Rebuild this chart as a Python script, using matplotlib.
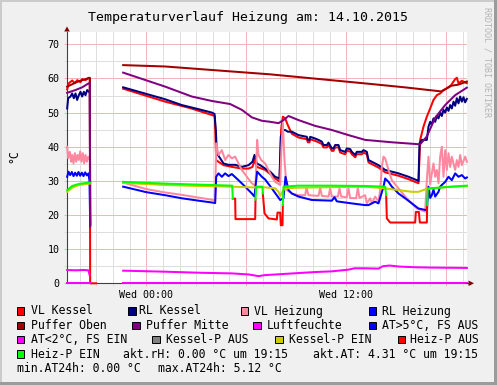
import numpy as np
import matplotlib
matplotlib.use('Agg')
import matplotlib.pyplot as plt
from matplotlib.patches import Rectangle, Polygon
from matplotlib.lines import Line2D

plt.rcParams['font.family'] = ['DejaVu Sans Mono', 'DejaVu Sans']

NAN = np.nan

# ---------------- data (hours relative to Wed 00:00, values in °C) ----------------
vlk_h = [-4.74, -4.64, -4.44, -4.28, -4.14, -3.94, -3.84, -3.64, -3.44, -3.38, -3.36, -3.0, -2.0,
         -1.38, 1.14, 2.64, 3.94, 4.12, 4.20, 4.34, 4.64, 5.14, 5.74, 6.14, 6.38, 6.50, 6.64,
         7.14, 7.44, 7.74, 8.00, 8.10, 8.20, 8.34, 8.50, 8.74,
         9.14, 9.54, 9.64, 9.70, 9.80, 9.84, 10.14, 10.34, 10.54, 10.64, 10.84, 10.94, 11.14,
         11.24, 11.34, 11.54, 11.64, 11.94, 12.04, 12.24, 12.34, 12.54, 12.64, 12.94, 13.04,
         13.24, 13.34, 13.54, 13.94, 14.34, 15.14, 15.74, 16.24, 16.34,
         16.44, 16.64, 16.84, 17.04, 17.24, 17.44, 17.64, 17.84, 18.04, 18.24, 18.44, 18.54,
         18.64, 18.74, 18.94, 19.24]
vlk_v = [56.8, 58.6, 59.4, 58.6, 59.5, 58.9, 59.8, 59.5, 60.2, 60.0, 0.0, 0.0, NAN,
         57.0, 53.2, 51.3, 49.3, 49.0, 36.0, 35.6, 34.6, 34.1, 33.6, 33.6, 34.1, 36.1, 34.1,
         33.2, 32.0, 30.7, 29.8, 45.0, 48.8, 48.3, 46.3, 43.8,
         42.7, 42.3, 42.2, 41.3, 41.3, 42.2, 41.7, 41.3, 40.8, 39.8, 39.8, 40.5, 38.8,
         38.8, 39.8, 39.8, 38.3, 37.8, 38.8, 38.6, 37.8, 36.9, 37.8, 37.8, 38.3,
         37.8, 35.4, 34.9, 33.9, 32.5, 31.5, 30.5, 29.5, 29.3,
         42.0, 45.9, 48.8, 51.2, 53.7, 55.1, 55.6, 56.6, 57.1, 57.6, 59.1, 59.8,
         60.2, 58.6, 59.3, 58.6]

rlk_h = [-4.74, -4.68, -4.54, -4.44, -4.34, -4.24, -4.14, -4.04, -3.94, -3.84, -3.74, -3.64,
         -3.54, -3.44, -3.38, -3.36, -2.0,
         -1.38, 1.14, 2.14, 3.14, 3.94, 4.10, 4.18, 4.24, 4.44, 4.64, 4.94, 5.34, 5.74, 6.14,
         6.38, 6.50, 6.64, 6.84, 7.14, 7.44, 7.74, 8.00, 8.08, 8.24, 8.34, 8.50, 8.74,
         9.14, 9.54, 9.64, 9.70, 9.80, 9.84, 10.14, 10.34, 10.54, 10.64, 10.84, 10.94, 11.14,
         11.24, 11.34, 11.54, 11.64, 11.94, 12.04, 12.24, 12.34, 12.54, 12.64, 12.94, 13.04,
         13.24, 13.34, 13.54, 13.94, 14.34, 15.14, 15.74, 16.24, 16.34,
         16.40, 16.54, 16.84, 16.94, 17.04, 17.14, 17.24, 17.34, 17.44, 17.54, 17.64, 17.74,
         17.84, 17.94, 18.04, 18.14, 18.24, 18.34, 18.44, 18.54, 18.64, 18.74, 18.84, 18.94,
         19.04, 19.14, 19.24]
rlk_v = [51.2, 54.2, 54.7, 55.6, 54.2, 55.6, 53.7, 55.1, 56.1, 54.7, 56.1, 55.1,
         56.6, 56.1, 56.0, 17.0, NAN,
         57.4, 53.9, 52.2, 51.0, 50.0, 49.6, 44.9, 38.1, 36.6, 35.1, 34.7, 34.7, 34.1, 34.6,
         35.6, 37.6, 35.1, 34.6, 33.6, 32.7, 31.2, 30.7, 43.0, 44.9, 44.9, 44.4, 44.4,
         43.4, 43.0, 42.9, 42.0, 42.0, 42.9, 42.4, 42.0, 41.5, 40.5, 40.5, 41.2, 39.5,
         39.5, 40.5, 40.5, 39.0, 38.5, 39.5, 39.3, 38.5, 37.6, 38.5, 38.5, 39.0,
         38.5, 36.1, 35.6, 34.6, 33.2, 32.2, 31.2, 30.2, 30.0,
         41.0, 42.0, 42.0, 45.9, 47.3, 46.5, 48.3, 47.3, 49.0, 48.3, 50.0, 49.0,
         50.8, 50.0, 51.5, 50.5, 52.2, 51.2, 53.2, 52.0, 54.2, 52.7, 54.7, 53.2,
         54.5, 53.0, 54.0]

vlh_h = [-4.74, -4.68, -4.58, -4.50, -4.44, -4.36, -4.28, -4.20, -4.12, -4.04, -3.96, -3.88,
         -3.80, -3.72, -3.64, -3.56, -3.48, -3.38, -3.36, -2.0,
         -1.38, 0.0, 1.14, 2.14, 3.14, 4.04, 4.14, 4.20, 4.34, 4.54, 4.74, 4.94, 5.14, 5.34,
         5.54, 5.74, 6.04, 6.34, 6.56, 6.66, 6.74, 6.90, 7.14, 7.54, 7.74, 8.04, 8.12, 8.20,
         8.30, 8.44, 8.74, 9.14, 9.54, 9.62, 9.74, 10.34, 10.44, 10.54, 10.94, 11.04, 11.14,
         11.50, 11.60, 11.70, 12.04, 12.14, 12.24, 12.60, 12.70, 12.80, 13.14, 13.24, 13.44,
         13.54, 13.74, 13.94, 14.04, 14.14, 14.24, 14.34, 14.54, 14.74, 15.14, 15.54, 15.94,
         16.24, 16.74, 16.84, 16.94, 17.04, 17.14, 17.24, 17.34, 17.44, 17.54, 17.64, 17.74,
         17.84, 17.94, 18.04, 18.14, 18.24, 18.34, 18.44, 18.54, 18.64, 18.74, 18.84, 18.94,
         19.14, 19.24]
vlh_v = [40.0, 36.6, 38.5, 35.6, 37.6, 35.1, 38.1, 35.6, 37.6, 36.1, 38.6, 35.6,
         38.1, 35.1, 37.6, 35.6, 37.1, 36.0, 17.0, NAN,
         29.5, 27.6, 26.6, 25.9, 25.1, 24.4, 24.4, 41.0, 37.6, 39.0, 36.1, 37.6, 36.6, 37.1,
         35.1, 33.2, 31.2, 29.3, 28.5, 42.0, 37.6, 36.1, 35.1, 31.2, 29.7, 28.8, 40.0, 47.0,
         36.0, 27.3, 26.3, 25.8, 25.8, 28.0, 25.8, 25.6, 28.0, 25.6, 25.4, 27.8, 25.4,
         25.4, 27.8, 25.4, 25.2, 27.8, 25.0, 24.9, 28.0, 25.0, 25.8, 23.4, 24.9,
         23.4, 25.4, 23.9, 27.3, 34.1, 37.1, 36.6, 33.2, 30.2, 27.8, 25.4, 23.4,
         21.9, 21.0, 30.2, 37.1, 29.0, 32.2, 35.1, 31.2, 33.2, 29.3, 37.1, 40.0,
         31.2, 39.0, 33.2, 38.1, 34.1, 37.1, 35.1, 33.2, 36.1, 34.1, 37.6, 34.6,
         37.1, 35.6]

rlh_h = [-4.74, -4.66, -4.56, -4.46, -4.36, -4.26, -4.16, -4.06, -3.96, -3.86, -3.76, -3.66,
         -3.56, -3.46, -3.40, -3.36, -2.0,
         -1.38, 0.0, 1.14, 2.14, 3.14, 4.04, 4.14, 4.20, 4.34, 4.54, 4.74, 4.94, 5.14, 5.54,
         5.94, 6.34, 6.50, 6.58, 6.66, 6.94, 7.14, 7.54, 8.04, 8.24, 8.36, 8.54, 8.74, 9.14,
         9.94, 11.14, 11.30, 11.44, 12.34, 13.14, 13.34, 13.74, 13.94, 14.24, 14.34, 14.54,
         14.74, 15.14, 15.54, 15.94, 16.34, 16.84, 16.94, 17.04, 17.14, 17.24, 17.34, 17.54,
         17.64, 17.74, 17.94, 18.14, 18.34, 18.54, 18.74, 18.94, 19.14, 19.24]
rlh_v = [31.2, 32.7, 31.7, 32.6, 31.4, 32.4, 31.5, 32.6, 31.5, 32.4, 31.4, 32.5,
         31.6, 32.2, 30.0, 17.5, NAN,
         28.3, 26.7, 25.8, 24.9, 24.2, 23.6, 23.5, 31.2, 32.2, 31.2, 32.2, 31.4, 32.0, 30.2,
         28.3, 26.3, 25.4, 29.3, 32.7, 31.2, 30.4, 27.8, 24.4, 24.9, 31.2, 27.3, 26.3, 25.4,
         24.4, 24.2, 25.2, 24.0, 23.4, 22.9, 22.9, 23.9, 23.4, 28.3, 30.7, 29.7,
         28.3, 26.3, 24.9, 23.4, 21.9, 21.4, 28.3, 25.0, 25.8, 27.5, 25.4, 26.8,
         28.3, 28.8, 29.7, 31.2, 30.2, 32.2, 31.2, 31.7, 30.7, 31.0]

po_h = [-4.74, -4.44, -4.14, -3.84, -3.44, -3.38, -3.36, -2.0,
        -1.38, 1.14, 4.14, 7.44, 10.44, 13.44, 15.50, 17.52, 17.70, 17.94, 18.24, 18.74, 19.24]
po_v = [57.6, 58.3, 59.0, 59.5, 60.1, 60.2, 17.0, NAN,
        63.9, 63.5, 62.4, 61.2, 59.8, 58.4, 57.4, 56.3, 56.2, 56.8, 57.8, 58.2, 59.1]

pm_h = [-4.74, -4.24, -3.84, -3.44, -3.38, -3.36, -2.0,
        -1.38, 1.14, 2.74, 3.94, 5.04, 5.74, 6.34, 6.94, 7.44, 7.94, 8.24, 8.54, 8.74, 9.14,
        10.14, 11.14, 12.14, 13.14, 14.74, 16.44, 16.84, 17.34, 17.94, 18.54, 19.24]
pm_v = [55.8, 56.6, 57.4, 58.6, 58.6, 16.6, NAN,
        61.7, 57.6, 54.7, 53.4, 52.5, 50.8, 48.6, 47.6, 47.3, 46.9, 47.8, 49.0, 48.6, 47.8,
        46.1, 44.9, 43.4, 42.0, 41.3, 40.7, 43.0, 48.5, 52.2, 55.1, 57.3]

lf_h = [-4.74, -3.38, -2.0, -1.38, 19.24]
lf_v = [0.0, 0.0, NAN, 0.0, 0.0]

at_h = [-4.74, -4.24, -3.74, -3.46, -3.40, -2.0,
        -1.38, 1.14, 3.14, 5.14, 6.14, 6.74, 7.14, 8.14, 9.14, 10.14, 11.14, 12.14, 12.50,
        13.14, 13.94, 14.20, 14.60, 15.20, 16.14, 17.14, 19.24]
at_v = [3.9, 3.8, 3.9, 3.8, 2.5, NAN,
        3.7, 3.4, 3.1, 2.9, 2.6, 2.1, 2.4, 2.7, 3.0, 3.3, 3.5, 4.0, 4.4,
        4.4, 4.3, 5.0, 5.2, 4.9, 4.7, 4.6, 4.5]

kp_h = [-4.74, -4.44, -4.04, -3.44, -3.38, -2.0,
        -1.38, 1.14, 3.14, 5.14, 6.34, 7.14, 7.74, 7.94, 8.04, 8.14, 8.30, 9.14, 13.14,
        14.34, 15.14, 15.94, 16.34, 16.74, 17.54, 18.34, 19.24]
kp_v = [26.8, 28.0, 28.8, 29.2, 29.2, NAN,
        29.4, 28.8, 28.5, 28.3, 28.1, 28.1, 27.8, 26.8, 25.6, 26.5, 27.8, 28.0, 28.3,
        27.8, 27.3, 26.8, 26.8, 27.5, 28.0, 28.3, 28.5]

# Heiz-P line: state 1 = EIN, 0 = AUS, 2 = switching point (both)
hp_h = [-4.74, -4.44, -4.04, -3.44, -3.38, -2.0,
        -1.38, 1.14, 3.14, 5.16, 5.20, 5.34, 5.36, 6.54, 6.56, 6.60, 6.98, 7.00, 7.10, 7.34,
        7.84, 7.88, 8.04, 8.08, 8.18, 8.20, 8.24, 9.14, 11.14, 13.14, 14.34, 14.40, 14.44,
        14.64, 16.14, 16.18, 16.36, 16.42, 16.84, 16.86, 16.90, 17.54, 18.34, 19.24]
hp_v = [27.3, 28.5, 29.1, 29.5, 29.5, NAN,
        29.7, 29.2, 28.9, 28.6, 24.8, 24.8, 18.8, 18.8, 24.5, 28.3, 28.3, 26.3, 20.5, 19.0,
        18.7, 20.7, 20.7, 17.0, 17.0, 22.9, 28.3, 28.6, 28.6, 28.5, 28.3, 25.8, 19.0,
        17.8, 17.8, 20.9, 20.9, 17.8, 17.8, 22.9, 27.8, 28.0, 28.3, 28.6]
hp_s = [1, 1, 1, 1, 1, -1,
        1, 1, 1, 1, 2, 0, 0, 0, 2, 1, 1, 2, 0, 0,
        0, 0, 0, 0, 0, 2, 1, 1, 1, 1, 1, 2, 0,
        0, 0, 0, 0, 0, 0, 2, 1, 1, 1, 1]

x_major = [0, 6, 12, 18]
x_labels = ['Wed 00:00', '', 'Wed 12:00', '']
x_minor = [h for h in range(-4, 20)]
y_major = [0, 10, 20, 30, 40, 50, 60, 70]
y_minor = [5, 15, 25, 35, 45, 55, 65]

title = 'Temperaturverlauf Heizung am: 14.10.2015'
legend_labels = ['VL Kessel', 'RL Kessel', 'VL Heizung', 'RL Heizung',
                 'Puffer Oben', 'Puffer Mitte', 'Luftfeuchte', 'AT>5°C, FS AUS',
                 'AT<2°C, FS EIN', 'Kessel-P AUS', 'Kessel-P EIN', 'Heiz-P AUS',
                 'Heiz-P EIN']
legend_colors = ['#FF0000', '#000080', '#FF88A0', '#0000FF',
                 '#A00000', '#800080', '#FF00FF', '#0000FF',
                 '#FF00FF', '#808080', '#CCCC00', '#FF0000',
                 '#00FF00']
info_texts = ['akt.rH: 0.00 °C um 19:15', 'akt.AT: 4.31 °C um 19:15',
              'min.AT24h: 0.00 °C', 'max.AT24h: 5.12 °C']

# ---------------- figure ----------------
W, H = 497, 385


def fx(x):
    return x / W


def fy(y):
    return 1 - y / H


fig = plt.figure(figsize=(W / 100, H / 100), dpi=100)
fig.patch.set_facecolor('#F0F0F0')

# frame
fig.add_artist(Rectangle((0, 0), fx(2), 1, transform=fig.transFigure, color='#CBCBCB', lw=0))
fig.add_artist(Rectangle((0, fy(2)), 1, 2 / H, transform=fig.transFigure, color='#CBCBCB', lw=0))
fig.add_artist(Rectangle((fx(494), 0), 3 / W, 1, transform=fig.transFigure, color='#9B9B9B', lw=0))
fig.add_artist(Rectangle((0, 0), 1, 3 / H, transform=fig.transFigure, color='#9B9B9B', lw=0))

ax = fig.add_axes([fx(67), fy(283.3), fx(467) - fx(67), fy(32) - fy(283.3)])
ax.set_facecolor('white')
ax.set_xlim(-4.75, 19.25)
ax.set_ylim(0, 73.6)

ax.set_xticks(x_major)
ax.set_xticklabels(x_labels)
ax.set_xticks(x_minor, minor=True)
ax.set_yticks(y_major)
ax.set_yticklabels([str(v) for v in y_major])
ax.set_yticks(y_minor, minor=True)
MAJ = '#F3B6B6'
MIN = '#DEDEDE'
ax.grid(True, which='minor', color=MIN, lw=0.72, zorder=0)
ax.grid(True, which='major', color=MAJ, lw=0.72, zorder=0.5)
ax.set_axisbelow(True)
ax.tick_params(which='major', length=2.2, width=0.72, color=MAJ, labelsize=7.2)
ax.tick_params(which='minor', length=2.2, width=0.72, color=MIN)
ax.tick_params(axis='y', pad=3.2)
ax.tick_params(axis='x', pad=2.5)
for s in ['top', 'right']:
    ax.spines[s].set_visible(False)
for s in ['left', 'bottom']:
    ax.spines[s].set_color('#404040')
    ax.spines[s].set_linewidth(0.8)

LW = 1.45


def draw(h, v, c):
    ax.plot(h, v, color=c, lw=LW, zorder=3, clip_on=False, solid_joinstyle='round')


draw(vlk_h, vlk_v, legend_colors[0])
draw(rlk_h, rlk_v, legend_colors[1])
draw(vlh_h, vlh_v, legend_colors[2])
draw(rlh_h, rlh_v, legend_colors[3])
draw(po_h, po_v, legend_colors[4])
draw(pm_h, pm_v, legend_colors[5])
draw(lf_h, lf_v, legend_colors[6])
draw(at_h, at_v, legend_colors[8])
draw(kp_h, kp_v, legend_colors[10])
hs = np.array(hp_s)
hv = np.array(hp_v, dtype=float)
draw(hp_h, np.where((hs == 0) | (hs == 2), hv, NAN), legend_colors[11])
draw(hp_h, np.where((hs == 1) | (hs == 2), hv, NAN), legend_colors[12])

# axis arrows
ARW = '#800000'
fig.add_artist(Polygon([(fx(67), fy(26.5)), (fx(64.2), fy(31.5)), (fx(69.8), fy(31.5))],
                       closed=True, transform=fig.transFigure, color=ARW, lw=0))
fig.add_artist(Polygon([(fx(474), fy(283.3)), (fx(468.5), fy(280.5)), (fx(468.5), fy(286.1))],
                       closed=True, transform=fig.transFigure, color=ARW, lw=0))
fig.add_artist(Line2D([fx(466), fx(469)], [fy(283.3), fy(283.3)], transform=fig.transFigure,
                      color='#404040', lw=0.8))

# title, axis label, watermark
fig.text(fx(247.5), fy(20.7), title, ha='center', va='baseline', fontsize=9.5, color='black')
fig.text(fx(13.5), fy(156.5), '°C', ha='center', va='center', rotation=90, fontsize=8.3)
fig.text(fx(486.5), fy(62), 'RRDTOOL / TOBI OETIKER', ha='center', va='center', rotation=270,
         fontsize=6, color='#B4B4B4')

# legend
rows = [310.7, 325.3, 339.3, 353.7, 367.7]
item_pos = [(16.7, 31, 0), (128.3, 139.3, 0), (240.7, 253.7, 0), (368.7, 382, 0),
            (16.7, 31, 1), (132.3, 145.7, 1), (253.0, 267, 1), (368.7, 382, 1),
            (16.7, 31, 2), (152.3, 165.7, 2), (275.3, 288.7, 2), (397.7, 410.3, 2),
            (16.7, 31, 3)]
FS = 8.3
for (bx, tx, r), lab, col in zip(item_pos, legend_labels, legend_colors):
    yc = rows[r]
    fig.add_artist(Rectangle((fx(bx), fy(yc + 3.8)), 7.6 / W, 7.6 / H, transform=fig.transFigure,
                             facecolor=col, edgecolor='black', lw=0.7))
    fig.text(fx(tx), fy(yc + 3.8), lab, ha='left', va='baseline', fontsize=FS)

info_pos = [(122.7, 3), (313, 3), (16.7, 4), (158.3, 4)]
for (tx, r), t in zip(info_pos, info_texts):
    fig.text(fx(tx), fy(rows[r] + 3.8), t, ha='left', va='baseline', fontsize=FS)

fig.savefig('out.png', dpi=100, facecolor=fig.get_facecolor())
